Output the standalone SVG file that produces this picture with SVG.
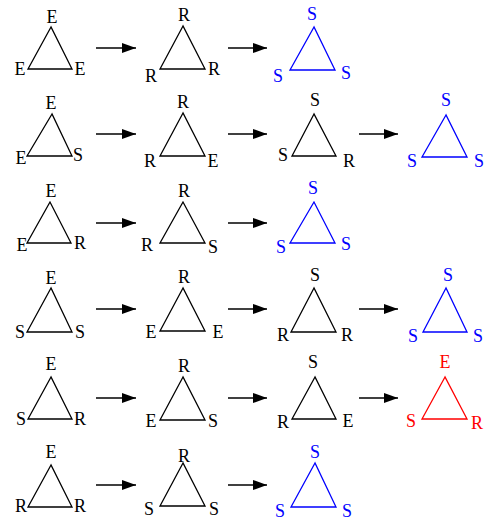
<svg xmlns="http://www.w3.org/2000/svg" width="490" height="523" viewBox="0 0 490 523">
<defs>
<marker id="ah" markerUnits="userSpaceOnUse" markerWidth="15" markerHeight="11" refX="14" refY="5" orient="auto">
<path d="M0,0 L14,5 L0,10 Z" fill="#000"/>
</marker>
<style>
text{font-family:"Liberation Serif","Times New Roman",serif;font-size:18px;text-anchor:middle}
.k polygon{fill:none;stroke:#000;stroke-width:1.3}
.k text{fill:#000}
.b polygon{fill:none;stroke:#0000ff;stroke-width:1.3}
.b text{fill:#0000ff}
.r polygon{fill:none;stroke:#ff0000;stroke-width:1.3}
.r text{fill:#ff0000}
#connectors line{stroke:#000;stroke-width:1.3;marker-end:url(#ah)}
</style>
</defs>
<rect width="490" height="523" fill="#fff"/>
<g id="connectors">
<line x1="96" y1="48" x2="136" y2="48"/>
<line x1="228" y1="48" x2="267" y2="48"/>
<line x1="96" y1="134" x2="136" y2="134"/>
<line x1="228" y1="134" x2="267" y2="134"/>
<line x1="359" y1="134" x2="398" y2="134"/>
<line x1="96" y1="223" x2="136" y2="223"/>
<line x1="228" y1="223" x2="267" y2="223"/>
<line x1="96" y1="309" x2="136" y2="309"/>
<line x1="228" y1="309" x2="267" y2="309"/>
<line x1="359" y1="309" x2="398" y2="309"/>
<line x1="96" y1="398" x2="136" y2="398"/>
<line x1="228" y1="398" x2="267" y2="398"/>
<line x1="359" y1="398" x2="398" y2="398"/>
<line x1="96" y1="485" x2="136" y2="485"/>
<line x1="228" y1="485" x2="267" y2="485"/>
</g>
<!-- Row 1 -->
<g id="r1t1" class="k"><polygon points="51,27 28,69 72,69"/><text x="52" y="23">E</text><text x="20" y="75">E</text><text x="80" y="75">E</text></g>
<g id="r1t2" class="k"><polygon points="183,26 160,69 205,69"/><text x="184" y="21">R</text><text x="151" y="82">R</text><text x="214" y="75">R</text></g>
<g id="r1t3" class="b"><polygon points="314,27 290,70 335,70"/><text x="312" y="20">S</text><text x="278" y="82">S</text><text x="346" y="79">S</text></g>
<!-- Row 2 -->
<g id="r2t1" class="k"><polygon points="52,114 27,156 72,156"/><text x="51" y="109">E</text><text x="21" y="164">E</text><text x="78" y="161">S</text></g>
<g id="r2t2" class="k"><polygon points="183,113 160,156 205,156"/><text x="183" y="108">R</text><text x="150" y="167">R</text><text x="213" y="167">E</text></g>
<g id="r2t3" class="k"><polygon points="314,114 292,156 336,156"/><text x="315" y="106">S</text><text x="283" y="161">S</text><text x="349" y="167">R</text></g>
<g id="r2t4" class="b"><polygon points="446,115 422,157 467,157"/><text x="446" y="106">S</text><text x="412" y="167">S</text><text x="479" y="167">S</text></g>
<!-- Row 3 -->
<g id="r3t1" class="k"><polygon points="50,202 27,243 71,243"/><text x="51" y="197">E</text><text x="22" y="251">E</text><text x="80" y="249">R</text></g>
<g id="r3t2" class="k"><polygon points="183,202 160,243 205,243"/><text x="184" y="197">R</text><text x="147" y="251">R</text><text x="213" y="253">S</text></g>
<g id="r3t3" class="b"><polygon points="314,202 290,243 335,243"/><text x="313" y="194">S</text><text x="281" y="253">S</text><text x="346" y="250">S</text></g>
<!-- Row 4 -->
<g id="r4t1" class="k"><polygon points="51,288 27,332 72,332"/><text x="51" y="284">E</text><text x="20" y="338">S</text><text x="80" y="338">S</text></g>
<g id="r4t2" class="k"><polygon points="183,288 160,331 205,331"/><text x="184" y="283">R</text><text x="151" y="338">E</text><text x="218" y="338">E</text></g>
<g id="r4t3" class="k"><polygon points="314,288 291,332 336,332"/><text x="315" y="281">S</text><text x="283" y="341">R</text><text x="347" y="341">R</text></g>
<g id="r4t4" class="b"><polygon points="446,288 423,332 467,332"/><text x="448" y="281">S</text><text x="413" y="342">S</text><text x="478" y="342">S</text></g>
<!-- Row 5 -->
<g id="r5t1" class="k"><polygon points="51,377 28,419 72,419"/><text x="51" y="370">E</text><text x="21" y="425">S</text><text x="80" y="425">R</text></g>
<g id="r5t2" class="k"><polygon points="183,377 160,420 205,420"/><text x="184" y="372">R</text><text x="151" y="427">E</text><text x="213" y="427">S</text></g>
<g id="r5t3" class="k"><polygon points="315,377 292,419 336,419"/><text x="313" y="368">S</text><text x="283" y="428">R</text><text x="348" y="427">E</text></g>
<g id="r5t4" class="r"><polygon points="445,377 422,419 467,419"/><text x="445" y="368">E</text><text x="411" y="427">S</text><text x="477" y="429">R</text></g>
<!-- Row 6 -->
<g id="r6t1" class="k"><polygon points="51,465 28,507 72,507"/><text x="51" y="458">E</text><text x="21" y="512">R</text><text x="80" y="512">R</text></g>
<g id="r6t2" class="k"><polygon points="183,463 160,506 205,506"/><text x="184" y="462">R</text><text x="149" y="515">S</text><text x="214" y="515">S</text></g>
<g id="r6t3" class="b"><polygon points="315,463 291,507 336,507"/><text x="315" y="458">S</text><text x="280" y="517">S</text><text x="347" y="517">S</text></g>
</svg>
